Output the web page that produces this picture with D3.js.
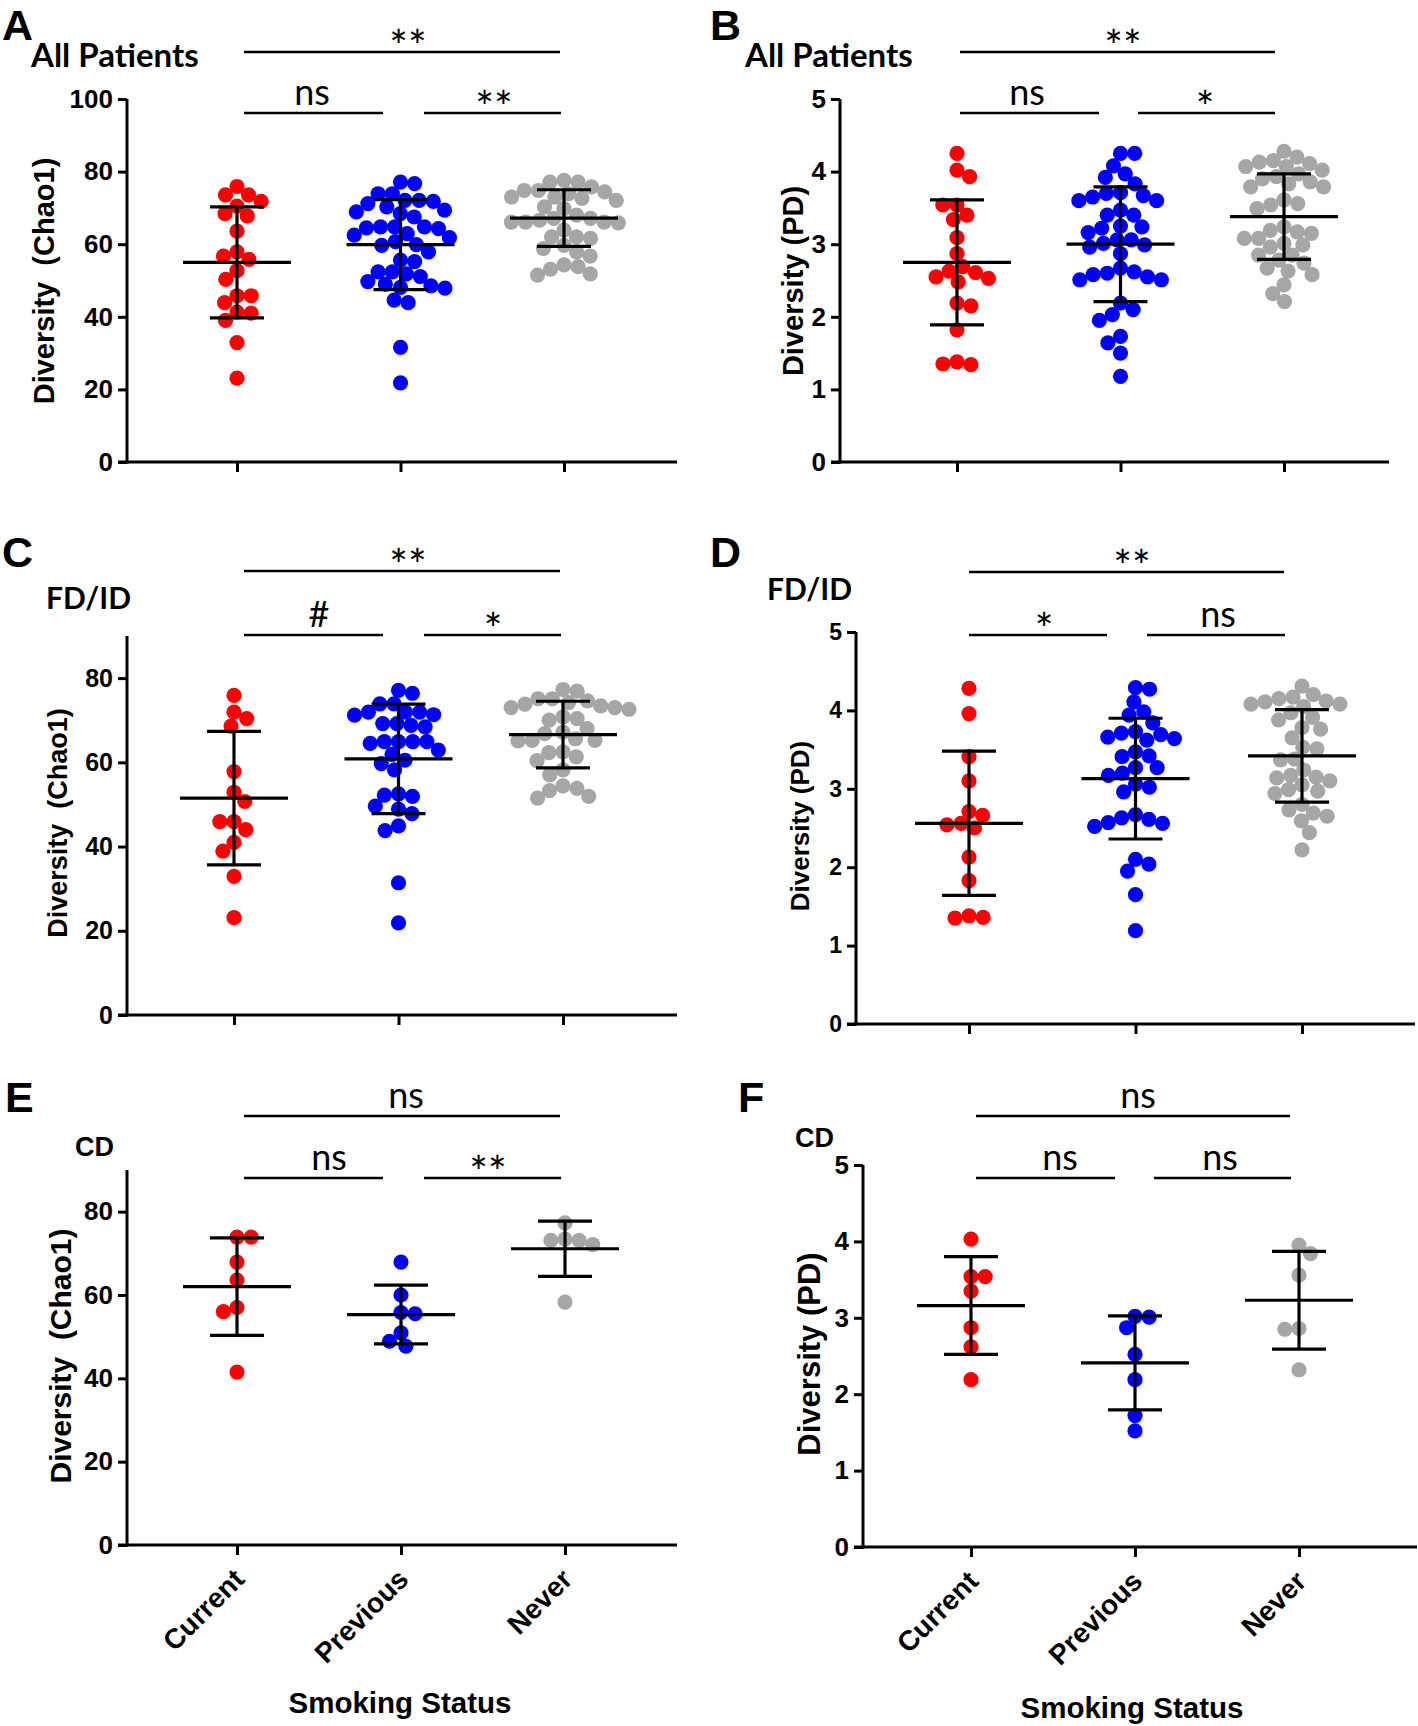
<!DOCTYPE html>
<html><head><meta charset="utf-8">
<script src="https://cdn.jsdelivr.net/npm/d3@7"></script>
<style>body{margin:0;background:#fff} svg{display:block}</style>
</head><body>
<svg id="c" width="1418" height="1726"></svg>
<script>
const categories = ["Current","Previous","Never"];
const colors = ["#ff0000","#0000ff","#a6a6a6"];

// Panel A: All Patients, Chao1
const A_current = [75.9,73.6,73.6,71.8,70.5,67.8,68.4,63.6,57.9,56.7,55.8,52.7,50.3,45.8,45.8,43.9,41.0,41.3,39.0,32.9,23.1];
const A_previous = [77.1,76.7,73.9,73.9,72.1,72.1,71.8,71.2,70.3,69.4,68.9,68.4,67.5,64.8,64.3,64.5,64.8,64.8,61.8,62.9,62.5,59.9,60.7,59.7,57.9,55.6,55.2,52.4,52.4,51.8,51.1,49.7,49.0,48.5,48.1,47.9,43.9,44.6,31.6,21.8];
const A_never = [77.6,77.1,77.1,75.8,74.8,74.8,74.4,73.9,73.0,73.0,72.6,72.1,70.3,69.8,68.0,67.1,67.1,66.6,66.1,66.1,66.1,65.9,63.9,62.0,62.0,61.6,59.7,58.8,57.9,56.7,54.3,53.8,53.1,51.8,51.5];
const A_mean = [55.0,59.9,67.2];
const A_sd = [15.3,12.4,7.8];

// Panel B: All Patients, PD
const B_current = [4.25,4.02,3.93,3.54,3.54,3.40,3.34,3.09,2.87,2.69,2.63,2.61,2.55,2.53,2.48,2.19,2.15,1.82,1.38,1.35,1.34];
const B_previous = [4.25,4.25,4.08,3.97,3.92,3.83,3.71,3.70,3.67,3.65,3.60,3.60,3.47,3.40,3.40,3.25,3.24,3.22,3.16,3.06,3.06,3.01,2.99,2.96,2.87,2.67,2.62,2.60,2.58,2.55,2.51,2.51,2.19,2.10,2.03,1.95,1.73,1.64,1.50,1.18];
const B_never = [4.28,4.20,4.15,4.13,4.11,4.07,4.07,4.02,3.97,3.93,3.90,3.86,3.83,3.79,3.79,3.61,3.56,3.54,3.49,3.24,3.19,3.17,3.15,3.08,3.08,3.01,2.99,2.96,2.85,2.85,2.78,2.74,2.67,2.63,2.58,2.44,2.32,2.21];
const B_mean = [2.75,3.00,3.38];
const B_sd = [0.86,0.79,0.59];

// Panel C: FD/ID, Chao1
const C_current = [75.9,71.9,70.4,68.6,57.8,52.9,50.7,45.9,45.9,44.0,41.0,38.9,32.9,23.1];
const C_previous = [77.1,76.4,73.9,73.9,71.9,71.9,71.9,71.3,71.2,69.2,69.2,68.8,68.4,64.9,64.9,64.9,64.9,64.5,62.9,61.9,60.5,59.7,58.2,52.5,52.2,51.9,49.6,48.9,47.8,44.9,43.8,31.4,21.9];
const C_never = [77.3,76.9,75.1,75.1,74.6,74.2,73.8,73.4,73.0,73.0,72.6,70.8,70.4,70.0,68.0,67.2,66.8,65.6,65.2,65.2,65.1,62.5,62.3,61.3,60.4,58.2,57.0,54.4,53.8,53.3,51.9,51.5];
const C_mean = [51.5,60.8,66.6];
const C_sd = [15.85,13.0,7.9];

// Panel D: FD/ID, PD
const D_current = [4.28,3.96,3.41,3.10,2.71,2.66,2.56,2.54,2.50,2.13,1.83,1.38,1.36,1.35];
const D_previous = [4.29,4.27,4.11,3.98,3.94,3.84,3.73,3.71,3.69,3.66,3.64,3.62,3.47,3.42,3.41,3.27,3.27,3.20,3.17,3.06,3.02,2.96,2.67,2.63,2.61,2.57,2.56,2.52,2.10,2.04,1.95,1.65,1.19];
const D_never = [4.31,4.20,4.17,4.15,4.12,4.11,4.08,4.08,4.05,3.97,3.91,3.88,3.78,3.76,3.65,3.53,3.51,3.38,3.37,3.24,3.17,3.15,3.14,3.10,3.05,2.99,2.97,2.94,2.80,2.73,2.69,2.65,2.59,2.44,2.22];
const D_mean = [2.56,3.13,3.42];
const D_sd = [0.92,0.77,0.59];

// Panel E: CD, Chao1
const E_current = [73.9,73.9,67.9,63.6,57.0,56.0,41.5];
const E_previous = [67.9,60.0,55.8,55.5,50.9,48.9,47.7];
const E_never = [77.3,73.4,73.1,73.1,72.1,58.3];
const E_mean = [62.0,55.3,71.1];
const E_sd = [11.7,7.05,6.65];

// Panel F: CD, PD
const F_current = [4.03,3.54,3.54,3.35,2.87,2.62,2.19];
const F_previous = [3.02,3.01,2.87,2.52,2.19,1.72,1.52];
const F_never = [3.95,3.84,3.56,2.86,2.85,2.32];
const F_mean = [3.16,2.41,3.23];
const F_sd = [0.64,0.615,0.64];

const ticksChao100 = [0,20,40,60,80,100];
const ticksChao80 = [0,20,40,60,80];
const ticksPD = [0,1,2,3,4,5];

// significance labels: [overall, current-previous, previous-never]
const sigA = ["**","ns","**"];
const sigB = ["**","ns","*"];
const sigC = ["**","#","*"];
const sigD = ["**","*","ns"];
const sigE = ["ns","ns","**"];
const sigF = ["ns","ns","ns"];

const panels = [
 {letter:"A", title:"All Patients", titleFont:"Lato", yLabel:"Diversity  (Chao1)", groups:[A_current,A_previous,A_never], mean:A_mean, sd:A_sd, yMax:100, ticks:ticksChao100, sig:sigA, xLabels:false,
  L:{letter:[2,39.5], title:[31,67], titleSize:33, ax:127, y0:462, yTop:99, xEnd:677, cx:[237,400,564], ylab:[44,281], labSize:29, tickSize:26, sigTop:52, sigLow:113, top:[244,560], low1:[244,383], low2:[424,561], tx:[408,312,494]}},
 {letter:"B", title:"All Patients", titleFont:"Lato", yLabel:"Diversity (PD)", groups:[B_current,B_previous,B_never], mean:B_mean, sd:B_sd, yMax:5, ticks:ticksPD, sig:sigB, xLabels:false,
  L:{letter:[710,39.5], title:[745,67], titleSize:33, ax:840, y0:462, yTop:99, xEnd:1389, cx:[957,1121,1284], ylab:[793,281], labSize:29, tickSize:26, sigTop:52, sigLow:113, top:[960,1275], low1:[960,1099], low2:[1138,1275], tx:[1123,1027,1205]}},
 {letter:"C", title:"FD/ID", titleFont:"Lato", yLabel:"Diversity  (Chao1)", groups:[C_current,C_previous,C_never], mean:C_mean, sd:C_sd, yMax:90, ticks:ticksChao80, sig:sigC, xLabels:false,
  L:{letter:[2,567], title:[46,609], titleSize:30, ax:127, y0:1015, yTop:636, xEnd:677, cx:[234,399,563], ylab:[57,823], labSize:27, tickSize:25, sigTop:571, sigLow:635, top:[244,560], low1:[244,383], low2:[424,561], tx:[408,319,493]}},
 {letter:"D", title:"FD/ID", titleFont:"Lato", yLabel:"Diversity (PD)", groups:[D_current,D_previous,D_never], mean:D_mean, sd:D_sd, yMax:5, ticks:ticksPD, sig:sigD, xLabels:false,
  L:{letter:[710,567], title:[767,600], titleSize:30, ax:856, y0:1024, yTop:632, xEnd:1415, cx:[969,1136,1302], ylab:[800,826], labSize:26, tickSize:23, sigTop:572, sigLow:635, top:[969,1284], low1:[969,1107], low2:[1147,1285], tx:[1132,1044,1218]}},
 {letter:"E", title:"CD", titleFont:"Liberation Sans", yLabel:"Diversity  (Chao1)", groups:[E_current,E_previous,E_never], mean:E_mean, sd:E_sd, yMax:90, ticks:ticksChao80, sig:sigE, xLabels:true,
  L:{letter:[5,1112], title:[75,1156], titleSize:27, ax:127, y0:1545, yTop:1170, xEnd:677, cx:[237,401,565], ylab:[60,1356], labSize:30, tickSize:26, sigTop:1116, sigLow:1178, top:[244,560], low1:[244,383], low2:[424,561], tx:[406,329,488], xTitle:[400,1713]}},
 {letter:"F", title:"CD", titleFont:"Liberation Sans", yLabel:"Diversity (PD)", groups:[F_current,F_previous,F_never], mean:F_mean, sd:F_sd, yMax:5, ticks:ticksPD, sig:sigF, xLabels:true,
  L:{letter:[738,1112], title:[795,1147], titleSize:27, ax:863, y0:1547, yTop:1165, xEnd:1417, cx:[971,1134,1299], ylab:[809,1354], labSize:31, tickSize:26, sigTop:1116, sigLow:1178, top:[976,1290], low1:[976,1115], low2:[1154,1291], tx:[1138,1060,1220], xTitle:[1132,1718]}}
];

const svg = d3.select("#c");
const R = 7.6, D = 14.2;

function beeswarm(values, y, D) {
  const pts = values.map(v => ({v, y: y(v)})).sort((a,b) => a.y - b.y);
  const placed = [];
  let flip = 1;
  for (const p of pts) {
    const iv = [];
    for (const q of placed) {
      const dy = Math.abs(q.y - p.y);
      if (dy < D) { const dx = Math.sqrt(D*D - dy*dy); iv.push([q.x - dx, q.x + dx]); }
    }
    const cands = [0];
    iv.forEach(([a,b]) => cands.push(a, b));
    const ok = cands.filter(c => iv.every(([a,b]) => c <= a + 1e-6 || c >= b - 1e-6));
    ok.sort((a,b) => (Math.abs(a) - Math.abs(b)) || (flip > 0 ? b - a : a - b));
    p.x = ok[0];
    if (Math.abs(p.x) > 1e-6) flip = -flip;
    placed.push(p);
  }
  return pts;
}

const sansB = "'Liberation Sans', Arial, sans-serif";

panels.forEach(P => {
  const L = P.L;
  const g = svg.append("g");
  const y = d3.scaleLinear().domain([0, P.yMax]).range([L.y0, L.yTop]);
  const x = d3.scalePoint().domain(categories).range([L.cx[0], L.cx[2]]);

  // panel letter
  g.append("text").attr("x", L.letter[0]).attr("y", L.letter[1]).text(P.letter)
    .style("font-family", sansB).style("font-weight", "bold").style("font-size", "43px");
  // group title
  g.append("text").attr("x", L.title[0]).attr("y", L.title[1]).text(P.title)
    .style("font-family", P.titleFont === "Lato" ? "Lato, sans-serif" : sansB)
    .style("font-weight", "bold").style("font-size", L.titleSize + "px");

  // y axis
  const yAxis = d3.axisLeft(y).tickValues(P.ticks).tickSize(9).tickPadding(5).tickFormat(d3.format("d"));
  const ya = g.append("g").attr("transform", `translate(${L.ax},0)`).call(yAxis);
  ya.select(".domain").remove();
  ya.selectAll(".tick line").attr("stroke", "#000").attr("stroke-width", 3);
  ya.selectAll(".tick text").style("font-family", sansB).style("font-weight", "bold")
    .style("font-size", L.tickSize + "px").attr("fill", "#000");
  g.append("line").attr("x1", L.ax).attr("x2", L.ax).attr("y1", L.yTop).attr("y2", L.y0 + 1.5)
    .attr("stroke", "#000").attr("stroke-width", 3);

  // x axis
  g.append("line").attr("x1", L.ax - 9).attr("x2", L.xEnd).attr("y1", L.y0).attr("y2", L.y0)
    .attr("stroke", "#000").attr("stroke-width", 3);
  const xAxis = d3.axisBottom(x).tickSize(10).tickFormat("");
  const xa = g.append("g").attr("transform", `translate(0,${L.y0})`).call(xAxis);
  xa.select(".domain").remove();
  xa.selectAll(".tick line").attr("stroke", "#000").attr("stroke-width", 3);

  // y label
  g.append("text").attr("transform", `translate(${L.ylab[0]},${L.ylab[1]}) rotate(-90)`)
    .attr("text-anchor", "middle").attr("dy", "0.36em").text(P.yLabel)
    .style("font-family", sansB).style("font-weight", "bold").style("font-size", L.labSize + "px")
    .style("white-space", "pre");

  // dots
  P.groups.forEach((vals, gi) => {
    const pts = beeswarm(vals, y, D);
    g.append("g").selectAll("circle").data(pts).join("circle")
      .attr("cx", d => x(categories[gi]) + d.x).attr("cy", d => d.y).attr("r", R)
      .attr("fill", colors[gi]);
  });

  // mean ± SD
  categories.forEach((c, gi) => {
    const cx = x(c), m = P.mean[gi], s = P.sd[gi];
    const eb = g.append("g").attr("stroke", "#000").attr("stroke-width", 3.2);
    eb.append("line").attr("x1", cx - 54).attr("x2", cx + 54).attr("y1", y(m)).attr("y2", y(m));
    eb.append("line").attr("x1", cx).attr("x2", cx).attr("y1", y(m - s)).attr("y2", y(m + s));
    eb.append("line").attr("x1", cx - 27).attr("x2", cx + 27).attr("y1", y(m + s)).attr("y2", y(m + s));
    eb.append("line").attr("x1", cx - 27).attr("x2", cx + 27).attr("y1", y(m - s)).attr("y2", y(m - s));
  });

  // significance bars
  const lines = [[L.top, L.sigTop], [L.low1, L.sigLow], [L.low2, L.sigLow]];
  lines.forEach(([xs, yy], i) => {
    g.append("line").attr("x1", xs[0]).attr("x2", xs[1]).attr("y1", yy).attr("y2", yy)
      .attr("stroke", "#000").attr("stroke-width", 2.4);
    const lab = P.sig[i];
    const isStar = lab.indexOf("*") >= 0;
    g.append("text").attr("x", L.tx[i]).attr("y", isStar ? yy + 10 : yy - 8)
      .attr("text-anchor", "middle").text(lab)
      .style("font-family", "Lato, sans-serif").style("font-size", isStar ? "44px" : "36px");
  });

  // x labels
  if (P.xLabels) {
    categories.forEach(c => {
      g.append("text").attr("transform", `translate(${x(c) + 9},${L.y0 + 36}) rotate(-45)`)
        .attr("text-anchor", "end").text(c)
        .style("font-family", sansB).style("font-weight", "bold").style("font-size", "28px");
    });
    g.append("text").attr("x", L.xTitle[0]).attr("y", L.xTitle[1]).attr("text-anchor", "middle")
      .text("Smoking Status").style("font-family", sansB).style("font-weight", "bold").style("font-size", "29.5px");
  }
});
</script>
</body></html>
